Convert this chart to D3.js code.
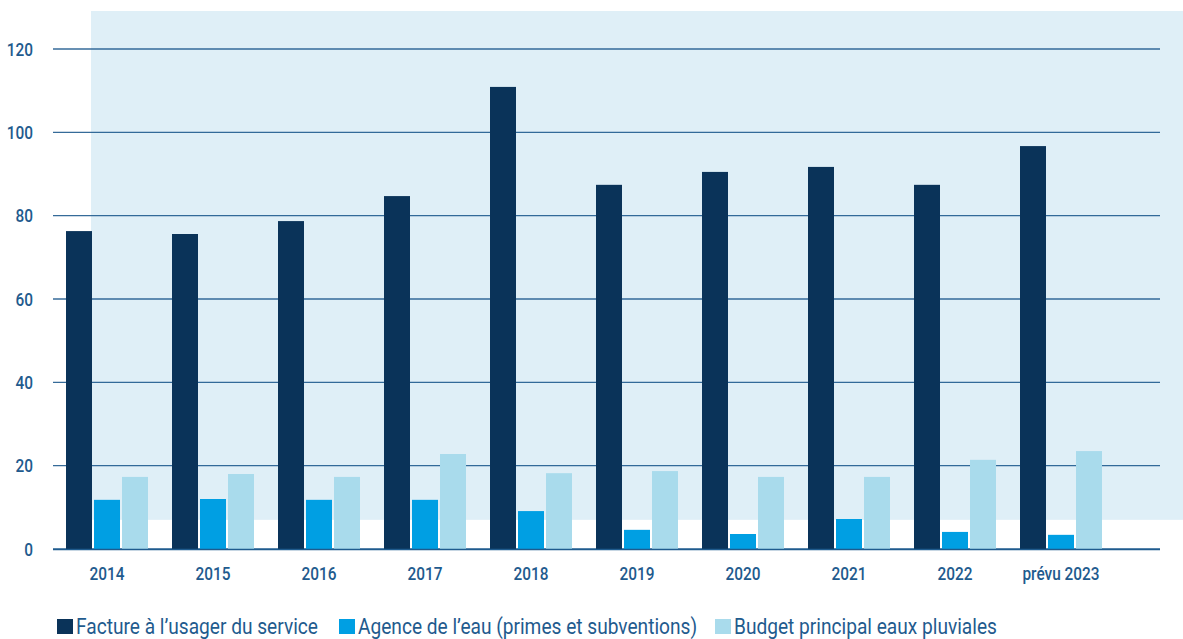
<!DOCTYPE html>
<html>
<head>
<meta charset="utf-8">
<script src="https://cdn.jsdelivr.net/npm/d3@7"></script>
<style>
  html, body { margin: 0; padding: 0; background: #ffffff; }
  svg { display: block; }
  text { font-family: Roboto, "Liberation Sans", sans-serif; }
</style>
</head>
<body>
<svg id="chart" width="1183" height="639"></svg>
<script>
const categories = ["2014", "2015", "2016", "2017", "2018", "2019", "2020", "2021", "2022", "prévu 2023"];
const seriesNames = ["Facture à l’usager du service", "Agence de l’eau (primes et subventions)", "Budget principal eaux pluviales"];
const facture = [76.3, 75.6, 78.7, 84.7, 110.9, 87.4, 90.5, 91.7, 87.4, 96.7];
const agence = [11.8, 12.0, 11.8, 11.8, 9.1, 4.6, 3.6, 7.2, 4.1, 3.4];
const budget = [17.3, 18.0, 17.3, 22.8, 18.2, 18.7, 17.3, 17.3, 21.4, 23.5];
const yTicks = [0, 20, 40, 60, 80, 100, 120];
const colors = ["#0a3359", "#009fe3", "#a9dbec"];

const seriesValues = [facture, agence, budget];
const svg = d3.select("#chart");

const y = d3.scaleLinear().domain([0, 120]).range([549, 49]);
const x = d3.scaleBand().domain(categories).range([54, 1114]).paddingInner(24 / 106).paddingOuter(12 / 106);
const xs = d3.scaleBand().domain(d3.range(3)).range([0, x.bandwidth()]).paddingInner(2 / 28).paddingOuter(0);

// background panel
svg.append("rect")
  .attr("x", 91).attr("y", 11)
  .attr("width", 1183 - 91).attr("height", y(7) - 11)
  .attr("fill", "#dfeff7");

// y labels
const gAxis = svg.append("g").attr("class", "y-axis");
const yAxis = d3.axisLeft(y).tickValues(yTicks).tickSize(0).tickPadding(0);
gAxis.attr("transform", "translate(33,0)").call(yAxis);
gAxis.select(".domain").remove();
gAxis.selectAll("text")
  .attr("x", 0)
  .attr("dy", "0.35em")
  .attr("fill", "#1f5b8e")
  .attr("transform", "scale(0.88,1)")
  .style("font-size", "17.5px")
  .style("font-weight", "500")
  .style("font-family", "Roboto, sans-serif");

// gridlines
svg.append("g").selectAll("line")
  .data(yTicks)
  .join("line")
  .attr("x1", 53).attr("x2", 1160)
  .attr("y1", d => y(d)).attr("y2", d => y(d))
  .attr("stroke", "#1f5b8e")
  .attr("stroke-opacity", 0.9)
  .attr("stroke-width", 1.3);

// bars
const groups = svg.append("g").selectAll("g")
  .data(categories)
  .join("g")
  .attr("transform", d => `translate(${x(d)},0)`);

groups.selectAll("rect")
  .data((d, i) => seriesValues.map((s, k) => ({ k, v: s[i] })))
  .join("rect")
  .attr("x", d => xs(d.k))
  .attr("width", xs.bandwidth())
  .attr("y", d => y(d.v))
  .attr("height", d => y(0) - y(d.v))
  .attr("fill", d => colors[d.k]);

// baseline on top
svg.append("line")
  .attr("x1", 53).attr("x2", 1160)
  .attr("y1", y(0) + 0.5).attr("y2", y(0) + 0.5)
  .attr("stroke", "#1f5b8e").attr("stroke-width", 1.5);

// x labels
const xAxis = d3.axisBottom(x).tickSize(0).tickPadding(0);
const gx = svg.append("g").attr("transform", "translate(0,580)").call(xAxis);
gx.select(".domain").remove();
gx.selectAll("text")
  .attr("y", 0).attr("dy", 0)
  .attr("fill", "#1f5b8e")
  .attr("transform", "scale(0.88,1)")
  .style("font-size", "17.5px")
  .style("font-weight", "500")
  .style("font-family", "Roboto, sans-serif");

// legend
const legendX = [57, 339, 715];
const legend = svg.append("g").selectAll("g")
  .data(seriesNames)
  .join("g")
  .attr("transform", (d, i) => `translate(${legendX[i]},619)`);
legend.append("rect")
  .attr("x", 0).attr("y", 0).attr("width", 16).attr("height", 15)
  .attr("fill", (d, i) => colors[i]);
legend.append("g")
  .attr("transform", "translate(19,15) scale(0.85,1)")
  .append("text")
  .attr("x", 0).attr("y", 0)
  .attr("fill", "#1f5b8e")
  .style("font-size", "22.5px")
  .text(d => d);
</script>
</body>
</html>
